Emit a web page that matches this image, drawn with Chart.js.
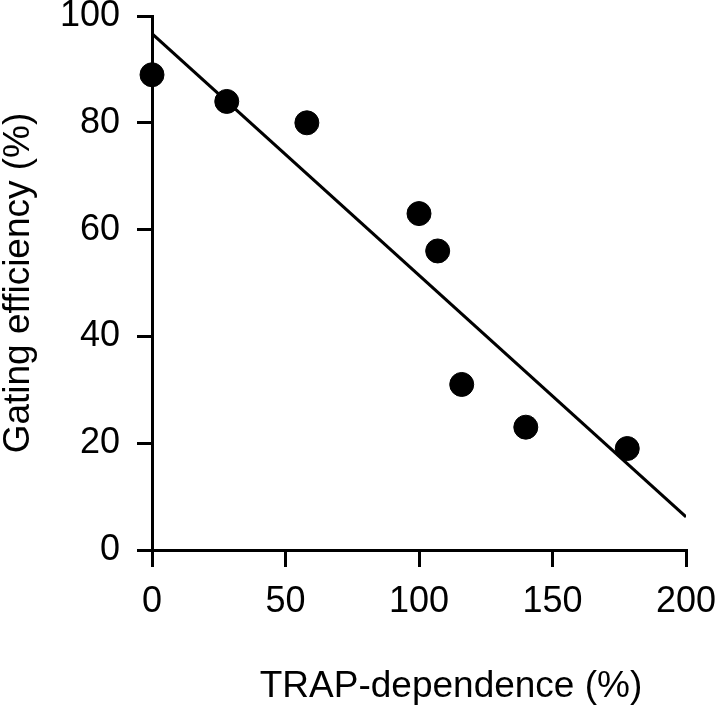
<!DOCTYPE html>
<html>
<head>
<meta charset="utf-8">
<script src="https://cdn.jsdelivr.net/npm/chart.js@4/dist/chart.umd.min.js"></script>
<style>
  html, body { margin: 0; padding: 0; background: #fff; }
  #wrap { width: 720px; height: 708px; }
</style>
</head>
<body>
<div id="wrap"><canvas id="chart"></canvas></div>
<script>
// Measured points (TRAP-dependence %, gating efficiency %)
const trapDependence = [0, 28, 58, 100, 107, 116, 140, 178];
const gatingEfficiency = [89, 84, 80, 63, 56, 31, 23, 19];

// Regression line end points
const fitX = [0, 200];
const fitY = [96.7, 6.2];

const xTicks = [0, 50, 100, 150, 200];
const yTicks = [0, 20, 40, 60, 80, 100];

const xTitle = 'TRAP-dependence (%)';
const yTitle = 'Gating efficiency (%)';

const FONT = "'Liberation Sans', Arial, Helvetica, sans-serif";

// x title sits a little right of the plot centre in the original
const xTitlePlugin = {
  id: 'xTitle',
  afterDraw(chart) {
    const { ctx, chartArea: { left, right } } = chart;
    ctx.save();
    ctx.font = `37px ${FONT}`;
    ctx.fillStyle = '#000';
    ctx.textAlign = 'center';
    ctx.textBaseline = 'alphabetic';
    ctx.fillText(xTitle, (left + right) / 2 + 32, 697);
    ctx.restore();
  },
};

new Chart(document.getElementById('chart'), {
  type: 'scatter',
  data: {
    datasets: [
      {
        label: 'data',
        data: trapDependence.map((x, i) => ({ x, y: gatingEfficiency[i] })),
        backgroundColor: '#000',
        borderColor: '#000',
        pointRadius: 12,
        pointHoverRadius: 12,
        clip: false,
        order: 1,
      },
      {
        type: 'line',
        label: 'fit',
        data: fitX.map((x, i) => ({ x, y: fitY[i] })),
        borderColor: '#000',
        borderWidth: 3,
        pointRadius: 0,
        fill: false,
        order: 2,
      },
    ],
  },
  plugins: [xTitlePlugin],
  options: {
    responsive: true,
    maintainAspectRatio: false,
    animation: false,
    layout: { padding: { top: 16, right: 34, left: 0, bottom: 0 } },
    plugins: { legend: { display: false }, tooltip: { enabled: false } },
    scales: {
      x: {
        type: 'linear',
        min: 0,
        max: 200,
        afterBuildTicks: (s) => { s.ticks = xTicks.map(v => ({ value: v })); },
        afterFit: (s) => {
          s.height = 158;
          s.paddingLeft = 0; s.paddingRight = 0;
        },
        grid: {
          display: true, drawOnChartArea: false, drawTicks: true,
          tickLength: 17, color: '#000', lineWidth: 3,
        },
        border: { display: true, color: '#000', width: 3 },
        ticks: { color: '#000', font: { family: FONT, size: 36 }, padding: 13, maxRotation: 0 },
      },
      y: {
        type: 'linear',
        min: 0,
        max: 100,
        afterBuildTicks: (s) => { s.ticks = yTicks.map(v => ({ value: v })); },
        afterFit: (s) => {
          s.width = 152;
          s.paddingTop = 0; s.paddingBottom = 0;
        },
        grid: {
          display: true, drawOnChartArea: false, drawTicks: true,
          tickLength: 15, color: '#000', lineWidth: 3,
        },
        border: { display: true, color: '#000', width: 3 },
        ticks: { color: '#000', font: { family: FONT, size: 36 }, padding: 17 },
        title: {
          display: true,
          text: yTitle,
          color: '#000',
          font: { family: FONT, size: 37, lineHeight: 1 },
          padding: { top: 0, bottom: 0 },
        },
      },
    },
  },
});
</script>
</body>
</html>
